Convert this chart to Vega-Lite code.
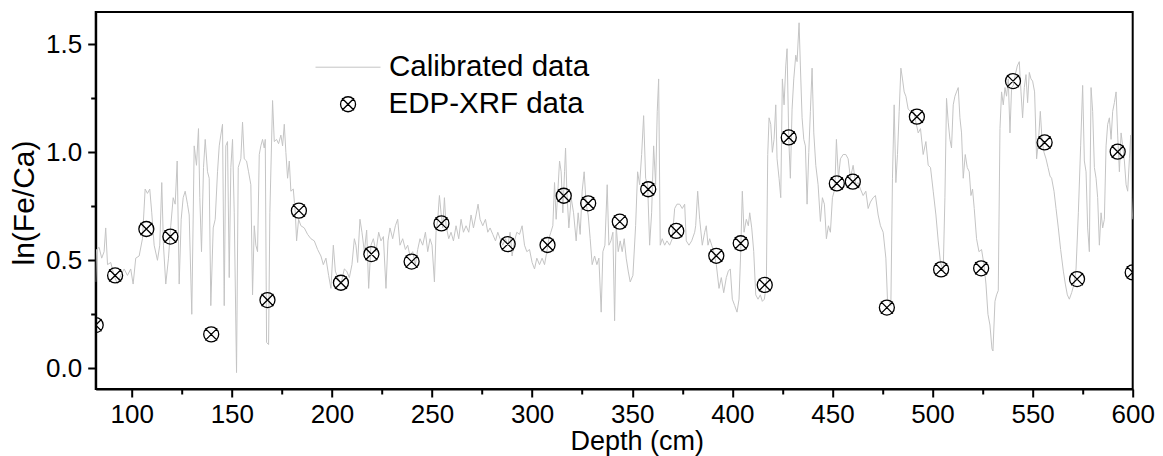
{
  "$schema": "https://vega.github.io/schema/vega-lite/v6.json",
  "width": 1037,
  "height": 377,
  "autosize": {"type": "none"},
  "padding": {"left": 95.7, "top": 12, "right": 30.3, "bottom": 67},
  "background": "white",
  "config": {
    "font": "Liberation Sans",
    "view": {"stroke": "black", "strokeWidth": 2},
    "axis": {"domainColor": "black", "domainWidth": 2, "tickColor": "black", "tickWidth": 2, "labelColor": "black", "titleColor": "black", "labelFont": "Liberation Sans", "titleFont": "Liberation Sans", "grid": false, "titleFontWeight": "normal"},
    "legend": {"labelFont": "Liberation Sans", "labelColor": "black", "labelLimit": 600}
  },
  "datasets": {
    "cal": [
      {"depth": 82, "value": 0.40}, {"depth": 82.4, "value": 0.55}, {"depth": 83.7, "value": 0.56}, {"depth": 85, "value": 0.51}, {"depth": 86.2, "value": 0.54}, {"depth": 87, "value": 0.65}, {"depth": 87.9, "value": 0.48}, {"depth": 89.5, "value": 0.49}, {"depth": 91.2, "value": 0.43}, {"depth": 92.85, "value": 0.39}, {"depth": 94.5, "value": 0.43}, {"depth": 96.2, "value": 0.46}, {"depth": 97.85, "value": 0.43}, {"depth": 99.5, "value": 0.46}, {"depth": 100.7, "value": 0.39}, {"depth": 102, "value": 0.51}, {"depth": 103.7, "value": 0.52}, {"depth": 105.35, "value": 0.60}, {"depth": 106.7, "value": 0.83}, {"depth": 107.85, "value": 0.81}, {"depth": 109, "value": 0.83}, {"depth": 110, "value": 0.72}, {"depth": 111.2, "value": 0.57}, {"depth": 112.85, "value": 0.50}, {"depth": 114, "value": 0.57}, {"depth": 115, "value": 0.86}, {"depth": 115.85, "value": 0.57}, {"depth": 117, "value": 0.39}, {"depth": 118.35, "value": 0.51}, {"depth": 119.5, "value": 0.66}, {"depth": 120.7, "value": 0.79}, {"depth": 121.7, "value": 0.76}, {"depth": 122.7, "value": 0.96}, {"depth": 123.7, "value": 0.39}, {"depth": 124.7, "value": 0.69}, {"depth": 125.7, "value": 0.79}, {"depth": 126.7, "value": 0.82}, {"depth": 127.85, "value": 0.76}, {"depth": 128.7, "value": 0.71}, {"depth": 130, "value": 0.25}, {"depth": 131.2, "value": 1.03}, {"depth": 132.35, "value": 0.94}, {"depth": 133.35, "value": 1.11}, {"depth": 134, "value": 0.79}, {"depth": 134.85, "value": 0.54}, {"depth": 135.85, "value": 0.93}, {"depth": 136.7, "value": 1.06}, {"depth": 137.85, "value": 0.91}, {"depth": 138.7, "value": 0.88}, {"depth": 139.5, "value": 0.29}, {"depth": 140.7, "value": 0.65}, {"depth": 141.7, "value": 0.69}, {"depth": 142.85, "value": 0.91}, {"depth": 143.7, "value": 1.03}, {"depth": 144.5, "value": 1.08}, {"depth": 145.35, "value": 1.13}, {"depth": 146.2, "value": 0.29}, {"depth": 147, "value": 1.03}, {"depth": 147.85, "value": 1.05}, {"depth": 148.7, "value": 0.42}, {"depth": 149.5, "value": 0.93}, {"depth": 150.35, "value": 1.06}, {"depth": 151.2, "value": 0.72}, {"depth": 152.35, "value": -0.02}, {"depth": 153.2, "value": 0.93}, {"depth": 154.5, "value": 0.97}, {"depth": 155.35, "value": 1.14},
      {"depth": 156.2, "value": 0.97}, {"depth": 157.35, "value": 0.96}, {"depth": 158.35, "value": 0.91}, {"depth": 159.5, "value": 0.85}, {"depth": 160.35, "value": 0.34}, {"depth": 161.2, "value": 0.66}, {"depth": 162, "value": 0.57}, {"depth": 162.85, "value": 0.54}, {"depth": 163.7, "value": 0.99}, {"depth": 164.5, "value": 1.03}, {"depth": 165.35, "value": 1.06}, {"depth": 166.2, "value": 1.02}, {"depth": 166.7, "value": 1.06}, {"depth": 167.35, "value": 0.12}, {"depth": 168.35, "value": 0.11}, {"depth": 169, "value": 0.72}, {"depth": 170.35, "value": 1.24}, {"depth": 171.2, "value": 1.05}, {"depth": 172.35, "value": 1.06}, {"depth": 173.35, "value": 1.04}, {"depth": 174.5, "value": 1.08}, {"depth": 175.35, "value": 1.03}, {"depth": 176.2, "value": 1.13}, {"depth": 177, "value": 1.00}, {"depth": 177.85, "value": 0.88}, {"depth": 178.7, "value": 0.96}, {"depth": 179.5, "value": 0.82}, {"depth": 180.7, "value": 0.83}, {"depth": 181.7, "value": 0.72}, {"depth": 182.35, "value": 0.59}, {"depth": 183.35, "value": 0.69}, {"depth": 184.5, "value": 0.66}, {"depth": 186.2, "value": 0.65}, {"depth": 187.85, "value": 0.62}, {"depth": 189.5, "value": 0.60}, {"depth": 191.2, "value": 0.59}, {"depth": 192.85, "value": 0.55}, {"depth": 194.5, "value": 0.52}, {"depth": 195.7, "value": 0.48}, {"depth": 197, "value": 0.51}, {"depth": 198.35, "value": 0.43}, {"depth": 199.5, "value": 0.37}, {"depth": 200.7, "value": 0.57}, {"depth": 201.7, "value": 0.45}, {"depth": 202.85, "value": 0.42}, {"depth": 204.5, "value": 0.39}, {"depth": 206.2, "value": 0.46}, {"depth": 207.35, "value": 0.45}, {"depth": 208.7, "value": 0.42}, {"depth": 210, "value": 0.48}, {"depth": 211.2, "value": 0.60}, {"depth": 212, "value": 0.57}, {"depth": 212.85, "value": 0.49}, {"depth": 214, "value": 0.69}, {"depth": 215, "value": 0.63}, {"depth": 216.2, "value": 0.54}, {"depth": 217.35, "value": 0.64}, {"depth": 218.35, "value": 0.37}, {"depth": 219.5, "value": 0.57}, {"depth": 220.7, "value": 0.60}, {"depth": 222, "value": 0.54}, {"depth": 223.35, "value": 0.63}, {"depth": 224.5, "value": 0.59}, {"depth": 225.7, "value": 0.61}, {"depth": 227, "value": 0.37}, {"depth": 228, "value": 0.59}, {"depth": 229, "value": 0.65}, {"depth": 230.35, "value": 0.60},
      {"depth": 231.7, "value": 0.66}, {"depth": 232.85, "value": 0.69}, {"depth": 234, "value": 0.57}, {"depth": 235.35, "value": 0.60}, {"depth": 236.7, "value": 0.55}, {"depth": 237.85, "value": 0.57}, {"depth": 239, "value": 0.52}, {"depth": 240.35, "value": 0.54}, {"depth": 241.7, "value": 0.48}, {"depth": 242.85, "value": 0.55}, {"depth": 244, "value": 0.60}, {"depth": 245.35, "value": 0.57}, {"depth": 246.7, "value": 0.63}, {"depth": 247.85, "value": 0.54}, {"depth": 249, "value": 0.60}, {"depth": 250, "value": 0.57}, {"depth": 251.2, "value": 0.40}, {"depth": 252, "value": 0.63}, {"depth": 252.85, "value": 0.69}, {"depth": 253.7, "value": 0.80}, {"depth": 254.5, "value": 0.72}, {"depth": 255.35, "value": 0.65}, {"depth": 256.2, "value": 0.79}, {"depth": 257, "value": 0.66}, {"depth": 258.35, "value": 0.60}, {"depth": 259.5, "value": 0.63}, {"depth": 260.7, "value": 0.59}, {"depth": 262, "value": 0.66}, {"depth": 263.35, "value": 0.60}, {"depth": 264.5, "value": 0.69}, {"depth": 265.7, "value": 0.63}, {"depth": 267, "value": 0.66}, {"depth": 268.35, "value": 0.63}, {"depth": 269.5, "value": 0.71}, {"depth": 270.7, "value": 0.65}, {"depth": 272, "value": 0.71}, {"depth": 273, "value": 0.76}, {"depth": 274, "value": 0.69}, {"depth": 275.35, "value": 0.66}, {"depth": 276.7, "value": 0.69}, {"depth": 277.85, "value": 0.63}, {"depth": 279, "value": 0.65}, {"depth": 280.35, "value": 0.62}, {"depth": 281.7, "value": 0.59}, {"depth": 282.85, "value": 0.63}, {"depth": 284, "value": 0.60}, {"depth": 285.35, "value": 0.57}, {"depth": 286.7, "value": 0.60}, {"depth": 287.85, "value": 0.57}, {"depth": 289, "value": 0.63}, {"depth": 290, "value": 0.52}, {"depth": 291.2, "value": 0.59}, {"depth": 292.35, "value": 0.63}, {"depth": 293.7, "value": 0.62}, {"depth": 295, "value": 0.66}, {"depth": 296.2, "value": 0.57}, {"depth": 297.35, "value": 0.54}, {"depth": 298.7, "value": 0.55}, {"depth": 300, "value": 0.49}, {"depth": 301.2, "value": 0.46}, {"depth": 302.35, "value": 0.51}, {"depth": 303.7, "value": 0.48}, {"depth": 305, "value": 0.51}, {"depth": 306.2, "value": 0.48},
      {"depth": 307.35, "value": 0.54}, {"depth": 308.35, "value": 0.60}, {"depth": 309.35, "value": 0.63}, {"depth": 310.35, "value": 0.66}, {"depth": 311.2, "value": 0.86}, {"depth": 312, "value": 0.69}, {"depth": 312.85, "value": 0.82}, {"depth": 313.7, "value": 0.96}, {"depth": 314.5, "value": 0.91}, {"depth": 315.35, "value": 0.72}, {"depth": 316.2, "value": 0.91}, {"depth": 316.7, "value": 1.02}, {"depth": 317.35, "value": 0.82}, {"depth": 318.35, "value": 0.65}, {"depth": 319.5, "value": 0.79}, {"depth": 320.7, "value": 0.72}, {"depth": 322, "value": 0.59}, {"depth": 323, "value": 0.72}, {"depth": 324, "value": 0.62}, {"depth": 325, "value": 0.82}, {"depth": 326, "value": 0.91}, {"depth": 327, "value": 0.76}, {"depth": 328, "value": 0.71}, {"depth": 329, "value": 0.60}, {"depth": 330, "value": 0.48}, {"depth": 331.2, "value": 0.52}, {"depth": 332.35, "value": 0.48}, {"depth": 333.35, "value": 0.51}, {"depth": 334.5, "value": 0.26}, {"depth": 335.35, "value": 0.54}, {"depth": 336.35, "value": 0.57}, {"depth": 337.5, "value": 0.85}, {"depth": 338.35, "value": 0.57}, {"depth": 339.35, "value": 0.59}, {"depth": 340.35, "value": 0.63}, {"depth": 341.2, "value": 0.22}, {"depth": 342, "value": 0.66}, {"depth": 343, "value": 0.54}, {"depth": 344, "value": 0.59}, {"depth": 345, "value": 0.54}, {"depth": 346, "value": 0.60}, {"depth": 347, "value": 0.51}, {"depth": 348, "value": 0.45}, {"depth": 349, "value": 0.40}, {"depth": 350.35, "value": 0.43}, {"depth": 351.7, "value": 0.66}, {"depth": 352.7, "value": 0.91}, {"depth": 353.7, "value": 0.85}, {"depth": 354.7, "value": 0.99}, {"depth": 355.7, "value": 1.17}, {"depth": 356.7, "value": 0.88}, {"depth": 357.7, "value": 0.85}, {"depth": 358.7, "value": 0.57}, {"depth": 359.7, "value": 0.72}, {"depth": 360.7, "value": 1.03}, {"depth": 361.7, "value": 0.85}, {"depth": 362.5, "value": 1.19}, {"depth": 363.2, "value": 1.34}, {"depth": 364, "value": 0.57}, {"depth": 365, "value": 0.60}, {"depth": 366.2, "value": 0.57}, {"depth": 367.35, "value": 0.59}, {"depth": 368.7, "value": 0.57}, {"depth": 370, "value": 0.60}, {"depth": 371.2, "value": 0.74}, {"depth": 372.35, "value": 0.76}, {"depth": 373.7, "value": 0.76}, {"depth": 375, "value": 0.74}, {"depth": 376.2, "value": 0.76}, {"depth": 377, "value": 0.59}, {"depth": 378.35, "value": 0.57}, {"depth": 379.7, "value": 0.59},
      {"depth": 381.2, "value": 0.63}, {"depth": 381.7, "value": 0.66}, {"depth": 382.7, "value": 0.82}, {"depth": 383.7, "value": 0.69}, {"depth": 385, "value": 0.57}, {"depth": 386.2, "value": 0.63}, {"depth": 387, "value": 0.66}, {"depth": 387.85, "value": 0.57}, {"depth": 388.7, "value": 0.60}, {"depth": 389.7, "value": 0.57}, {"depth": 390.7, "value": 0.54}, {"depth": 392, "value": 0.48}, {"depth": 393.35, "value": 0.37}, {"depth": 394.5, "value": 0.42}, {"depth": 395.7, "value": 0.35}, {"depth": 397, "value": 0.42}, {"depth": 398, "value": 0.45}, {"depth": 399, "value": 0.46}, {"depth": 400, "value": 0.32}, {"depth": 401.2, "value": 0.29}, {"depth": 402.35, "value": 0.26}, {"depth": 403.35, "value": 0.32}, {"depth": 404.2, "value": 0.54}, {"depth": 405, "value": 0.82}, {"depth": 405.85, "value": 0.63}, {"depth": 407, "value": 0.69}, {"depth": 408, "value": 0.66}, {"depth": 408.7, "value": 0.72}, {"depth": 409.7, "value": 0.65}, {"depth": 410.7, "value": 0.54}, {"depth": 411.7, "value": 0.34}, {"depth": 412.85, "value": 0.32}, {"depth": 414, "value": 0.34}, {"depth": 415, "value": 0.31}, {"depth": 416, "value": 0.32}, {"depth": 417, "value": 0.39}, {"depth": 417.7, "value": 0.99}, {"depth": 418.35, "value": 1.16}, {"depth": 419.2, "value": 1.13}, {"depth": 420, "value": 1.00}, {"depth": 420.85, "value": 1.06}, {"depth": 421.7, "value": 1.22}, {"depth": 422.35, "value": 0.97}, {"depth": 423.35, "value": 0.88}, {"depth": 424.2, "value": 0.79}, {"depth": 425, "value": 1.34}, {"depth": 425.85, "value": 1.22}, {"depth": 426.7, "value": 1.40}, {"depth": 427.35, "value": 1.48}, {"depth": 428.2, "value": 1.06}, {"depth": 429, "value": 0.88}, {"depth": 429.85, "value": 1.20}, {"depth": 430.7, "value": 1.34}, {"depth": 431.7, "value": 1.45}, {"depth": 432.35, "value": 1.42}, {"depth": 433.35, "value": 1.60}, {"depth": 434, "value": 1.40}, {"depth": 434.85, "value": 1.16}, {"depth": 435.7, "value": 1.06}, {"depth": 436.5, "value": 1.03}, {"depth": 437.35, "value": 0.76}, {"depth": 438.2, "value": 1.00}, {"depth": 439, "value": 1.19}, {"depth": 439.85, "value": 1.39}, {"depth": 440.7, "value": 1.09}, {"depth": 441.7, "value": 0.94}, {"depth": 442.85, "value": 0.85}, {"depth": 444, "value": 0.68}, {"depth": 445, "value": 0.79}, {"depth": 446, "value": 0.76}, {"depth": 447, "value": 0.60}, {"depth": 448, "value": 0.66}, {"depth": 449, "value": 0.63}, {"depth": 450, "value": 0.79}, {"depth": 451.2, "value": 0.83}, {"depth": 452, "value": 1.06}, {"depth": 453, "value": 0.88}, {"depth": 454, "value": 0.97}, {"depth": 455.35, "value": 0.99},
      {"depth": 456.7, "value": 0.99}, {"depth": 457.85, "value": 0.97}, {"depth": 459, "value": 0.88}, {"depth": 460.35, "value": 0.94}, {"depth": 461.7, "value": 0.85}, {"depth": 462.85, "value": 0.86}, {"depth": 464, "value": 0.83}, {"depth": 465.35, "value": 0.80}, {"depth": 466.7, "value": 0.82}, {"depth": 467.85, "value": 0.74}, {"depth": 469, "value": 0.77}, {"depth": 470.35, "value": 0.79}, {"depth": 471.5, "value": 0.80}, {"depth": 472.85, "value": 0.71}, {"depth": 474, "value": 0.66}, {"depth": 475.35, "value": 0.63}, {"depth": 476.7, "value": 0.51}, {"depth": 477.5, "value": 0.32}, {"depth": 478.35, "value": 0.31}, {"depth": 479.2, "value": 0.29}, {"depth": 480, "value": 0.88}, {"depth": 480.85, "value": 1.22}, {"depth": 481.7, "value": 0.86}, {"depth": 482.5, "value": 0.99}, {"depth": 483.35, "value": 1.19}, {"depth": 484.2, "value": 1.39}, {"depth": 485, "value": 1.34}, {"depth": 485.85, "value": 1.28}, {"depth": 486.7, "value": 1.26}, {"depth": 487.85, "value": 1.20}, {"depth": 489, "value": 1.19}, {"depth": 490.35, "value": 1.20}, {"depth": 491.7, "value": 1.14}, {"depth": 492.85, "value": 1.09}, {"depth": 494, "value": 1.11}, {"depth": 495.35, "value": 0.99}, {"depth": 496.7, "value": 1.05}, {"depth": 497.85, "value": 0.94}, {"depth": 499, "value": 0.93}, {"depth": 500.35, "value": 0.82}, {"depth": 501.7, "value": 0.71}, {"depth": 502.85, "value": 0.59}, {"depth": 504, "value": 0.49}, {"depth": 505.35, "value": 0.45}, {"depth": 506.2, "value": 0.79}, {"depth": 507, "value": 1.25}, {"depth": 507.85, "value": 1.14}, {"depth": 508.7, "value": 1.06}, {"depth": 509.5, "value": 1.02}, {"depth": 510.35, "value": 1.22}, {"depth": 511.2, "value": 1.26}, {"depth": 512, "value": 1.28}, {"depth": 512.85, "value": 1.30}, {"depth": 513.7, "value": 1.16}, {"depth": 514.5, "value": 1.09}, {"depth": 515.35, "value": 0.88}, {"depth": 516.35, "value": 0.99}, {"depth": 517.35, "value": 0.93}, {"depth": 518.35, "value": 0.91}, {"depth": 519.2, "value": 0.80}, {"depth": 520, "value": 0.83}, {"depth": 520.85, "value": 0.74}, {"depth": 522, "value": 0.60}, {"depth": 523.2, "value": 0.54}, {"depth": 524.5, "value": 0.55}, {"depth": 525.7, "value": 0.48}, {"depth": 526.7, "value": 0.39}, {"depth": 527.7, "value": 0.25}, {"depth": 528.7, "value": 0.20}, {"depth": 529.7, "value": 0.09}, {"depth": 530.2, "value": 0.08}, {"depth": 531.2, "value": 0.31}, {"depth": 532, "value": 0.34}, {"depth": 532.85, "value": 0.36}, {"depth": 533.7, "value": 1.11},
      {"depth": 534.5, "value": 1.28}, {"depth": 535.35, "value": 1.22}, {"depth": 536.2, "value": 1.30}, {"depth": 537, "value": 1.26}, {"depth": 537.85, "value": 1.34}, {"depth": 538.7, "value": 1.09}, {"depth": 539.5, "value": 1.30}, {"depth": 540.35, "value": 1.31}, {"depth": 541.35, "value": 1.36}, {"depth": 542.35, "value": 1.40}, {"depth": 543.35, "value": 1.42}, {"depth": 544.2, "value": 1.28}, {"depth": 545, "value": 1.16}, {"depth": 545.85, "value": 1.30}, {"depth": 546.7, "value": 1.36}, {"depth": 547.5, "value": 1.23}, {"depth": 548.35, "value": 1.37}, {"depth": 549.2, "value": 1.34}, {"depth": 550, "value": 1.33}, {"depth": 551, "value": 1.28}, {"depth": 552, "value": 0.97}, {"depth": 553, "value": 1.06}, {"depth": 553.85, "value": 1.19}, {"depth": 554.7, "value": 1.06}, {"depth": 555.7, "value": 1.00}, {"depth": 556.7, "value": 0.97}, {"depth": 557.7, "value": 0.93}, {"depth": 558.7, "value": 0.89}, {"depth": 559.5, "value": 0.88}, {"depth": 560.7, "value": 0.82}, {"depth": 561.7, "value": 0.74}, {"depth": 562.85, "value": 0.65}, {"depth": 564, "value": 0.55}, {"depth": 565.35, "value": 0.45}, {"depth": 566.35, "value": 0.39}, {"depth": 567.35, "value": 0.34}, {"depth": 568.35, "value": 0.32}, {"depth": 569.5, "value": 0.35}, {"depth": 570.7, "value": 0.39}, {"depth": 571.7, "value": 0.46}, {"depth": 572.85, "value": 0.72}, {"depth": 574, "value": 1.03}, {"depth": 575, "value": 1.31}, {"depth": 575.85, "value": 0.96}, {"depth": 576.7, "value": 0.91}, {"depth": 577.5, "value": 0.65}, {"depth": 578.35, "value": 0.54}, {"depth": 579.2, "value": 1.30}, {"depth": 580, "value": 1.19}, {"depth": 580.85, "value": 0.93}, {"depth": 581.7, "value": 0.88}, {"depth": 582.5, "value": 0.79}, {"depth": 583.35, "value": 0.57}, {"depth": 584.2, "value": 0.72}, {"depth": 585, "value": 0.65}, {"depth": 585.85, "value": 0.69}, {"depth": 586.7, "value": 1.03}, {"depth": 587.5, "value": 1.13}, {"depth": 588.35, "value": 1.16}, {"depth": 589.2, "value": 1.06}, {"depth": 590, "value": 1.19}, {"depth": 590.85, "value": 1.23}, {"depth": 591.7, "value": 1.28}, {"depth": 592.5, "value": 1.08}, {"depth": 593.35, "value": 0.91}, {"depth": 594.2, "value": 1.09}, {"depth": 595, "value": 1.03}, {"depth": 595.85, "value": 0.96}, {"depth": 596.7, "value": 0.85}, {"depth": 597.5, "value": 0.82}, {"depth": 598.35, "value": 0.97}, {"depth": 599, "value": 1.08}, {"depth": 599.5, "value": 0.79}, {"depth": 600, "value": 0.69}
    ],
    "edp": [
      {"depth": 82, "value": 0.20}, {"depth": 91.7, "value": 0.43}, {"depth": 107.3, "value": 0.645}, {"depth": 119.3, "value": 0.61}, {"depth": 139.7, "value": 0.157}, {"depth": 167.8, "value": 0.316}, {"depth": 183.5, "value": 0.73}, {"depth": 204.5, "value": 0.396}, {"depth": 219.7, "value": 0.529}, {"depth": 239.8, "value": 0.494}, {"depth": 254.7, "value": 0.671}, {"depth": 287.8, "value": 0.575}, {"depth": 307.7, "value": 0.571}, {"depth": 315.8, "value": 0.799}, {"depth": 328, "value": 0.764}, {"depth": 343.8, "value": 0.679}, {"depth": 358, "value": 0.829}, {"depth": 372, "value": 0.636}, {"depth": 392, "value": 0.521}, {"depth": 404.2, "value": 0.579}, {"depth": 416.2, "value": 0.386}, {"depth": 428.2, "value": 1.069}, {"depth": 452.2, "value": 0.856}, {"depth": 460.2, "value": 0.864}, {"depth": 477.2, "value": 0.281}, {"depth": 492.2, "value": 1.165}, {"depth": 504.3, "value": 0.458}, {"depth": 524.3, "value": 0.463}, {"depth": 540.2, "value": 1.33}, {"depth": 556, "value": 1.046}, {"depth": 572.2, "value": 0.413}, {"depth": 592.5, "value": 1.003}, {"depth": 600, "value": 0.444}
    ]
  },
  "layer": [
    {
      "data": {"name": "cal"},
      "mark": {"type": "line", "strokeWidth": 1, "clip": true},
      "encoding": {
        "x": {
          "field": "depth", "type": "quantitative",
          "scale": {"domain": [82, 600], "nice": false, "zero": false},
          "axis": {
            "title": "Depth (cm)",
            "values": [100, 125, 150, 175, 200, 225, 250, 275, 300, 325, 350, 375, 400, 425, 450, 475, 500, 525, 550, 575, 600],
            "format": "d",
            "labelExpr": "datum.value % 50 === 0 ? datum.label : ''",
            "tickSize": {"condition": {"test": "datum.value % 50 !== 0", "value": 5}, "value": 8},
            "labelFontSize": 26,
            "labelPadding": 4.5,
            "labelFlush": false,
            "labelOverlap": false,
            "titleFontSize": 27,
            "titleX": 541,
            "titleY": 60,
            "titleAlign": "center",
            "titleBaseline": "alphabetic"
          }
        },
        "y": {
          "field": "value", "type": "quantitative",
          "scale": {"domain": [-0.096, 1.65], "nice": false, "zero": false},
          "axis": {
            "title": "ln(Fe/Ca)",
            "values": [0, 0.25, 0.5, 0.75, 1, 1.25, 1.5],
            "format": ".1f",
            "labelExpr": "datum.value % 0.5 === 0 ? datum.label : ''",
            "tickSize": {"condition": {"test": "datum.value % 0.5 !== 0", "value": 5}, "value": 8},
            "labelFontSize": 26,
            "labelPadding": 6,
            "labelOverlap": false,
            "labelFlush": false,
            "titleFontSize": 30,
            "titleX": -71,
            "titleY": 190.5,
            "titleAngle": 270,
            "titleAlign": "center",
            "titleBaseline": "middle"
          }
        },
        "stroke": {
          "datum": "Calibrated data", "type": "nominal",
          "scale": {"range": ["#c4c4c4"]},
          "legend": {"orient": "none", "legendX": 219.3, "legendY": 22.2, "title": null, "symbolType": "stroke", "symbolSize": 4225, "symbolStrokeWidth": 1, "labelFontSize": 29.5, "labelOffset": 8, "padding": 0}
        }
      }
    },
    {
      "data": {"name": "edp"},
      "mark": {"type": "point", "filled": false, "clip": true, "size": 225, "strokeWidth": 1.3, "color": "black", "opacity": 1},
      "encoding": {
        "x": {"field": "depth", "type": "quantitative"},
        "y": {"field": "value", "type": "quantitative"},
        "shape": {
          "datum": "EDP-XRF data", "type": "nominal",
          "scale": {"range": ["M-1,0A1,1,0,1,1,1,0A1,1,0,1,1,-1,0ZM-0.8,-0.8L0.8,0.8M0.8,-0.8L-0.8,0.8"]},
          "legend": {"orient": "none", "legendX": 237.6, "legendY": 77.5, "title": null, "symbolSize": 225, "symbolStrokeColor": "black", "symbolFillColor": "transparent", "symbolStrokeWidth": 1.3, "symbolOpacity": 1, "labelFontSize": 29.5, "labelOffset": 25.7, "padding": 0}
        }
      }
    }
  ]
}
